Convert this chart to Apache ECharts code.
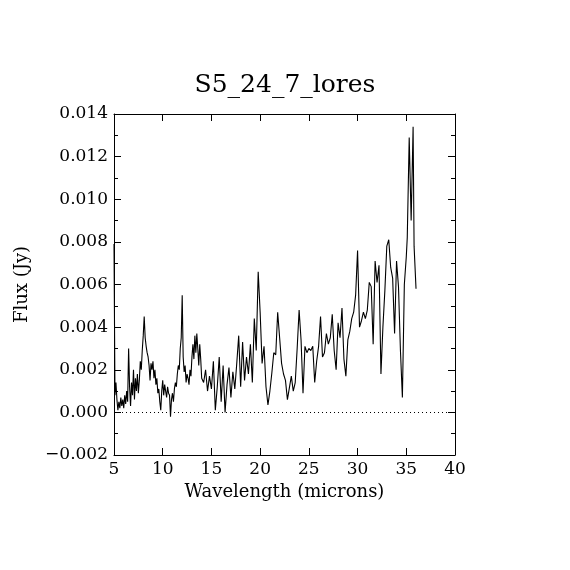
<!DOCTYPE html>
<html>
<head>
<meta charset="utf-8">
<title>S5_24_7_lores</title>
<script src="https://cdn.jsdelivr.net/npm/echarts@6/dist/echarts.min.js"></script>
<style>
  html, body { margin: 0; padding: 0; background: #fff; }
  #chart { width: 570px; height: 570px; }
</style>
</head>
<body>
<div id="chart"></div>
<script>
// spectrum (wavelength in microns, flux in Jy)
var wavelength = [
  5.0, 5.1, 5.2, 5.3, 5.4, 5.5, 5.6, 5.7, 5.8, 5.9,
  6.0, 6.1, 6.2, 6.3, 6.4, 6.5, 6.6, 6.7, 6.8, 6.9,
  7.0, 7.1, 7.2, 7.3, 7.4, 7.5, 7.6, 7.7, 7.8, 7.9,
  8.0, 8.1, 8.2, 8.3, 8.4, 8.5, 8.6, 8.7, 8.8, 8.9,
  9.0, 9.1, 9.2, 9.3, 9.4, 9.5, 9.6, 9.7, 9.8, 9.9,
  10.0, 10.1, 10.2, 10.3, 10.4, 10.5, 10.6, 10.7, 10.8, 10.9,
  11.0, 11.1, 11.2, 11.3, 11.4, 11.5, 11.6, 11.7, 11.8, 11.9,
  12.0, 12.1, 12.2, 12.3, 12.4, 12.5, 12.6, 12.7, 12.8, 12.9,
  13.0, 13.1, 13.2, 13.3, 13.4, 13.5, 13.6, 13.7, 13.8, 13.9,
  14.0, 14.2, 14.4, 14.6, 14.8, 15.0, 15.2, 15.4, 15.6, 15.8,
  16.0, 16.2, 16.4, 16.6, 16.8, 17.0, 17.2, 17.4, 17.6, 17.8,
  18.0, 18.2, 18.4, 18.6, 18.8, 19.0, 19.2, 19.4, 19.6, 19.8,
  20.0, 20.2, 20.4, 20.6, 20.8, 21.0, 21.2, 21.4, 21.6, 21.8,
  22.0, 22.2, 22.4, 22.6, 22.8, 23.0, 23.2, 23.4, 23.6, 23.8,
  24.0, 24.2, 24.4, 24.6, 24.8, 25.0, 25.2, 25.4, 25.6, 25.8,
  26.0, 26.2, 26.4, 26.6, 26.8, 27.0, 27.2, 27.4, 27.6, 27.8,
  28.0, 28.2, 28.4, 28.6, 28.8, 29.0, 29.2, 29.4, 29.6, 29.8,
  30.0, 30.2, 30.4, 30.6, 30.8, 31.0, 31.2, 31.4, 31.6, 31.8,
  32.0, 32.2, 32.4, 32.6, 32.8, 33.0, 33.2, 33.4, 33.6, 33.8,
  34.0, 34.2, 34.4, 34.6, 34.8, 35.0, 35.1, 35.3, 35.5, 35.7,
  35.8, 36.0
];

var flux = [
  0.0079, 0.0008, 0.0014, 0.0006, 0.0001, 0.0005, 0.0002, 0.0007, 0.0003, 0.0006,
  0.0002, 0.0008, 0.0004, 0.0010, 0.0005, 0.0030, 0.0012, 0.0003, 0.0014, 0.0008,
  0.0020, 0.0006, 0.0016, 0.0010, 0.0018, 0.0009, 0.0015, 0.0024, 0.0020, 0.0029,
  0.0036, 0.0045, 0.0035, 0.0031, 0.0028, 0.0026, 0.0022, 0.0015, 0.0023, 0.0020,
  0.0024, 0.0016, 0.0020, 0.0013, 0.0016, 0.0009, 0.0011, 0.0005, 0.0001, 0.0010,
  0.0015, 0.0008, 0.0013, 0.0010, 0.0007, 0.0012, 0.0009, 0.0008, -0.0002, 0.0006,
  0.0009, 0.0005, 0.0011, 0.0014, 0.0012, 0.0018, 0.0022, 0.0020, 0.0030, 0.0035,
  0.0055, 0.0026, 0.0019, 0.0022, 0.0014, 0.0018, 0.0016, 0.0013, 0.0020, 0.0017,
  0.0026, 0.0032, 0.0025, 0.0036, 0.0028, 0.0037, 0.0030, 0.0022, 0.0032, 0.0025,
  0.0016, 0.0014, 0.0020, 0.0010, 0.0017, 0.0011, 0.0024, 0.0001, 0.0012, 0.0026,
  0.0005, 0.0022, 0.0000, 0.0013, 0.0021, 0.0007, 0.0019, 0.0011, 0.0023, 0.0036,
  0.0012, 0.0033, 0.0015, 0.0026, 0.0018, 0.0032, 0.0014, 0.0044, 0.0029, 0.0066,
  0.0047, 0.0023, 0.0031, 0.0012, 0.00035, 0.0010, 0.00185, 0.0028, 0.0027, 0.0047,
  0.0035, 0.0023, 0.0018, 0.0015, 0.0006, 0.0006, 0.0017, 0.0010, 0.0014, 0.0030,
  0.0048, 0.0034, 0.0009, 0.0031, 0.0028, 0.0030, 0.0029, 0.0031, 0.0014, 0.0024,
  0.0031, 0.0045, 0.0026, 0.0028, 0.0037, 0.0032, 0.0035, 0.0046, 0.0029, 0.0020,
  0.0042, 0.0035, 0.0049, 0.0025, 0.0017, 0.0034, 0.0038, 0.0044, 0.0047, 0.0055,
  0.0076, 0.0040, 0.0043, 0.0047, 0.0044, 0.0048, 0.0061, 0.0059, 0.0032, 0.0071,
  0.0061, 0.0069, 0.0018, 0.0040, 0.0057, 0.0078, 0.0081, 0.0068, 0.0063, 0.0037,
  0.0071, 0.0059, 0.0029, 0.0007, 0.0060, 0.0073, 0.0082, 0.0129, 0.0090, 0.0134,
  0.0078, 0.0058
];

var xTicks = [5, 10, 15, 20, 25, 30, 35, 40];
var yTicks = [-0.002, 0.000, 0.002, 0.004, 0.006, 0.008, 0.010, 0.012, 0.014];

var points = wavelength.map(function (w, i) { return [w, flux[i]]; });

var serif = 'DejaVu Serif';
var tickStyle = { show: true, inside: true, length: 7, lineStyle: { color: '#000', width: 1 } };
var minorStyle = { show: true, splitNumber: 2, length: 4, lineStyle: { color: '#000', width: 1 } };

function yLabel(v) {
  return v.toFixed(3).replace('-', '\u2212');
}

var chart = echarts.init(document.getElementById('chart'), null, { renderer: 'canvas' });

var option = {
  animation: false,
  backgroundColor: '#fff',
  title: {
    text: 'S5_24_7_lores',
    left: 'center',
    top: 68,
    textStyle: { fontFamily: serif, fontSize: 25, fontWeight: 'normal', color: '#000' }
  },
  grid: { left: 114, right: 115, top: 114, bottom: 115 },
  xAxis: [{
    type: 'value',
    min: xTicks[0],
    max: xTicks[xTicks.length - 1],
    interval: 5,
    name: 'Wavelength (microns)',
    nameLocation: 'middle',
    nameGap: 28,
    nameTextStyle: { fontFamily: serif, fontSize: 18, color: '#000' },
    axisLine: { show: true, onZero: false, lineStyle: { color: '#000', width: 1 } },
    axisTick: tickStyle,
    axisLabel: { fontFamily: serif, fontSize: 17, color: '#000', margin: 6 },
    splitLine: { show: false }
  }, {
    type: 'value',
    position: 'top',
    min: xTicks[0],
    max: xTicks[xTicks.length - 1],
    interval: 5,
    axisLine: { show: true, onZero: false, lineStyle: { color: '#000', width: 1 } },
    axisTick: tickStyle,
    axisLabel: { show: false },
    splitLine: { show: false }
  }],
  yAxis: [{
    type: 'value',
    min: yTicks[0],
    max: yTicks[yTicks.length - 1],
    interval: 0.002,
    name: 'Flux (Jy)',
    nameLocation: 'middle',
    nameRotate: 90,
    nameGap: 83,
    nameTextStyle: { fontFamily: serif, fontSize: 18, color: '#000' },
    axisLine: { show: true, onZero: false, lineStyle: { color: '#000', width: 1 } },
    axisTick: tickStyle,
    minorTick: minorStyle,
    axisLabel: { fontFamily: serif, fontSize: 17, color: '#000', margin: 6, formatter: yLabel },
    splitLine: { show: false }
  }, {
    type: 'value',
    position: 'right',
    min: yTicks[0],
    max: yTicks[yTicks.length - 1],
    interval: 0.002,
    axisLine: { show: true, onZero: false, lineStyle: { color: '#000', width: 1 } },
    axisTick: tickStyle,
    minorTick: minorStyle,
    axisLabel: { show: false },
    splitLine: { show: false }
  }],
  series: [{
    name: 'S5_24_7_lores',
    type: 'line',
    data: points,
    showSymbol: false,
    symbol: 'none',
    lineStyle: { color: '#000', width: 1.1 },
    clip: true,
    markLine: {
      silent: true,
      symbol: 'none',
      label: { show: false },
      lineStyle: { color: '#000', width: 1, type: [1, 3] },
      data: [{ yAxis: 0 }]
    }
  }]
};

chart.setOption(option);
</script>
</body>
</html>
